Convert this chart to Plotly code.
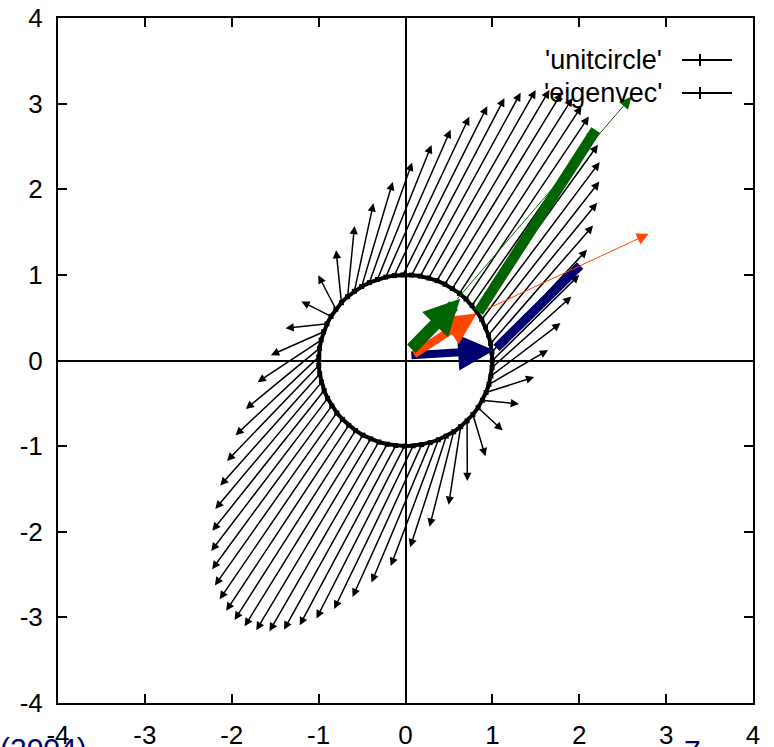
import math
import plotly.graph_objects as go

# ---------------- data ----------------
# 'unitcircle': vectors from unit-circle points p to p + A p
A_MATRIX = [[1.0, 1.0],
            [1.0, 2.0]]
THETA = [0.0, 0.1, 0.2, 0.3, 0.4, 0.5, 0.6, 0.7, 0.8, 0.9,
         1.0, 1.1, 1.2, 1.3, 1.4, 1.5, 1.6, 1.7, 1.8, 1.9,
         2.0, 2.1, 2.2, 2.3, 2.4, 2.5, 2.6, 2.7, 2.8, 2.9,
         3.0, 3.1, 3.2, 3.3, 3.4, 3.5, 3.6, 3.7, 3.8, 3.9,
         4.0, 4.1, 4.2, 4.3, 4.4, 4.5, 4.6, 4.7, 4.8, 4.9,
         5.0, 5.1, 5.2, 5.3, 5.4, 5.5, 5.6, 5.7, 5.8, 5.9,
         6.0, 6.1, 6.2]

# 'eigenvec': vectors (x0, y0, x1, y1)
NAVY_ARROW = [0.05, 0.06, 1.02, 0.12]
NAVY_LINE = [1.03, 0.13, 2.01, 1.11]
ORANGE_ARROW = [0.08, 0.06, 0.82, 0.55]
GREEN_LINE = [0.83, 0.55, 2.19, 2.69]
GREEN_ARROW = [0.05, 0.12, 0.63, 0.72]
GREEN_THIN = [0.58, 0.70, 2.60, 3.08]
ORANGE_THIN = [0.83, 0.55, 2.80, 1.48]

X_TICKS = [-4, -3, -2, -1, 0, 1, 2, 3, 4]
Y_TICKS = [-4, -3, -2, -1, 0, 1, 2, 3, 4]
LEGEND_LABELS = ["'unitcircle'", "'eigenvec'"]

# ---------------- styles ----------------
NAVY = "#00006e"
ORANGE = "#ff4500"
GREEN = "#006400"
FONT_FAMILY = "Liberation Sans, Arial, sans-serif"
TICK_FONT = dict(family=FONT_FAMILY, size=26, color="black")

W, H = 774, 747
ML, MR, MT, MB = 58, 21, 18, 44

# points on the circle and their images
px = [math.cos(t) for t in THETA]
py = [math.sin(t) for t in THETA]
ex = [x + A_MATRIX[0][0] * x + A_MATRIX[0][1] * y for x, y in zip(px, py)]
ey = [y + A_MATRIX[1][0] * x + A_MATRIX[1][1] * y for x, y in zip(px, py)]

fig = go.Figure()

# unit circle ring
fig.add_trace(go.Scatter(
    x=px + [px[0]], y=py + [py[0]], mode="lines+markers",
    line=dict(color="black", width=4),
    marker=dict(symbol="square", size=5, color="black"),
    hoverinfo="skip", showlegend=False))

annotations = []


def arrow(seg, color, width, head, size):
    annotations.append(dict(
        x=seg[2], y=seg[3], ax=seg[0], ay=seg[1],
        xref="x", yref="y", axref="x", ayref="y",
        text="", showarrow=True, arrowhead=head, arrowsize=size,
        arrowwidth=width, arrowcolor=color, standoff=0, startstandoff=0))


# hatch vectors
for i in range(len(THETA)):
    arrow([px[i], py[i], ex[i], ey[i]], "black", 1.5, 2, 1.1)

# eigenvector drawing
arrow(NAVY_ARROW, NAVY, 8, 2, 0.9)
arrow(NAVY_LINE, NAVY, 9, 0, 1)
arrow(ORANGE_THIN, ORANGE, 1, 2, 2.4)
arrow(ORANGE_ARROW, ORANGE, 8, 2, 0.8)
arrow(GREEN_LINE, GREEN, 10.5, 0, 1)
arrow(GREEN_THIN, GREEN, 1, 2, 2.4)
arrow(GREEN_ARROW, GREEN, 12, 2, 0.6)

# key (gnuplot style: label on the left, sample on the right)
pw = W - ML - MR
ph = H - MT - MB


def xp(pix):
    return (pix - ML) / pw


def yp(pix):
    return (H - MB - pix) / ph


shapes = []
for lab, row in zip(LEGEND_LABELS, [60, 93]):
    annotations.append(dict(
        x=xp(664), y=yp(row), xref="paper", yref="paper", text=lab,
        showarrow=False, xanchor="right", yanchor="middle",
        font=dict(family=FONT_FAMILY, size=27, color="black")))
    shapes.append(dict(type="line", xref="paper", yref="paper",
                       x0=xp(682), x1=xp(732), y0=yp(row), y1=yp(row),
                       line=dict(color="black", width=2)))
    shapes.append(dict(type="line", xref="paper", yref="paper",
                       x0=xp(700), x1=xp(700), y0=yp(row - 6), y1=yp(row + 6),
                       line=dict(color="black", width=2)))

# slide residue at the bottom edge
annotations.append(dict(x=xp(-2), y=yp(730), xref="paper", yref="paper", text="(2004)",
                        showarrow=False, xanchor="left", yanchor="top",
                        font=dict(family=FONT_FAMILY, size=30, color=NAVY)))
annotations.append(dict(x=xp(682), y=yp(732), xref="paper", yref="paper", text="7",
                        showarrow=False, xanchor="left", yanchor="top",
                        font=dict(family=FONT_FAMILY, size=30, color=NAVY)))

axis_common = dict(
    range=[-4, 4], showgrid=False, zeroline=True, zerolinecolor="black", zerolinewidth=2,
    showline=True, linecolor="black", linewidth=2, mirror="ticks",
    ticks="inside", ticklen=9, tickwidth=2, tickcolor="black",
    tickfont=TICK_FONT, fixedrange=True, automargin=False)

fig.update_xaxes(tickvals=X_TICKS, ticktext=[str(v) for v in X_TICKS],
                 ticklabelstandoff=8, **axis_common)
fig.update_yaxes(tickvals=Y_TICKS, ticktext=[str(v) for v in Y_TICKS],
                 ticklabelstandoff=8, **axis_common)

fig.update_layout(
    template="none",
    width=W, height=H, autosize=False,
    margin=dict(l=ML, r=MR, t=MT, b=MB, pad=0),
    paper_bgcolor="white", plot_bgcolor="white",
    showlegend=False, annotations=annotations, shapes=shapes)

fig.write_html("out.html", config={"displayModeBar": False, "staticPlot": True},
               post_script="document.body.style.margin='0';document.body.style.overflow='hidden';")
